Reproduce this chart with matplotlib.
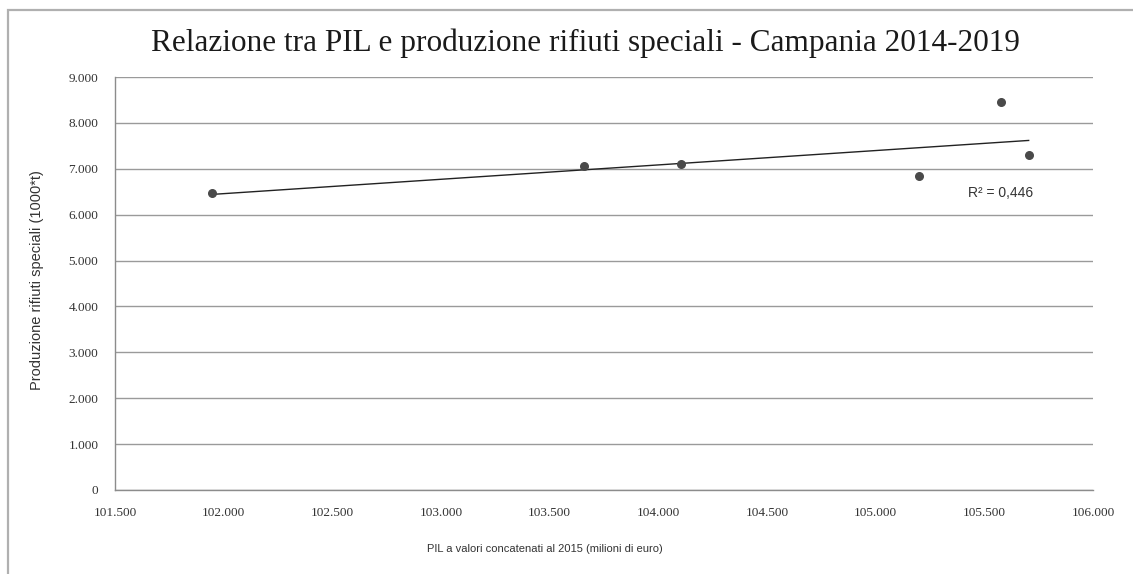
import numpy as np
import matplotlib
matplotlib.use("Agg")
import matplotlib.pyplot as plt
from matplotlib.ticker import FuncFormatter, MultipleLocator
from matplotlib.patches import Rectangle

# PIL a valori concatenati (milioni di euro) e produzione rifiuti speciali (1000 t)
pil = [101946, 103657, 104103, 105198, 105575, 105704]
rifiuti = [6463, 7052, 7096, 6834, 8450, 7293]
r2_label = "R² = 0,446"

title = "Relazione tra PIL e produzione rifiuti speciali - Campania 2014-2019"
xlabel = "PIL a valori concatenati al 2015 (milioni di euro)"
ylabel = "Produzione rifiuti speciali (1000*t)"

W, H = 1133, 574
fig = plt.figure(figsize=(W / 100, H / 100), dpi=100)
fig.patch.set_facecolor("white")

# chart frame
fig.patches.append(Rectangle((8 / W, -0.05), 1.2, 1 - 10 / H + 0.05,
                             transform=fig.transFigure, fill=False,
                             edgecolor="#b0b0b0", linewidth=1.6))

ax = fig.add_axes([115 / W, 1 - 490 / H, (1093 - 115) / W, (490 - 77) / H])

def it_fmt(v, _pos):
    return f"{int(round(v)):,}".replace(",", ".")

ax.set_xlim(101500, 106000)
ax.set_ylim(0, 9000)
ax.xaxis.set_major_locator(MultipleLocator(500))
ax.yaxis.set_major_locator(MultipleLocator(1000))
ax.xaxis.set_major_formatter(FuncFormatter(it_fmt))
ax.yaxis.set_major_formatter(FuncFormatter(it_fmt))

ax.grid(axis="y", color="#9a9a9a", linewidth=1.0)
ax.set_axisbelow(True)
for side in ("top", "right"):
    ax.spines[side].set_visible(False)
for side in ("left", "bottom"):
    ax.spines[side].set_color("#8c8c8c")
    ax.spines[side].set_linewidth(1.0)
ax.tick_params(length=0, labelsize=9.5, colors="#333333")
ax.tick_params(axis="x", pad=12)
ax.tick_params(axis="y", pad=12)
for lab in ax.get_xticklabels() + ax.get_yticklabels():
    lab.set_family("Liberation Serif")

# dati
ax.scatter(pil, rifiuti, s=30, color="#4a4a4a", zorder=3)

# linea di tendenza lineare
coef = np.polyfit(pil, rifiuti, 1)
xs = np.array([min(pil), max(pil)])
ax.plot(xs, np.polyval(coef, xs), color="#222222", linewidth=1.0, zorder=2)

ax.text(105425, 6480, r2_label, fontsize=10, color="#333333",
        family="Liberation Sans", ha="left", va="center")

fig.text(585 / W, 1 - 43 / H, title, family="Liberation Serif",
         fontsize=22.5, color="#1a1a1a", ha="center", va="center")
fig.text(545 / W, 1 - 549 / H, xlabel, family="Liberation Sans",
         fontsize=8, color="#333333", ha="center", va="center")
fig.text(37 / W, 1 - 280 / H, ylabel, family="Liberation Sans",
         fontsize=10.5, color="#333333", ha="center", va="center",
         rotation=90)

fig.savefig("out.png", dpi=100)
